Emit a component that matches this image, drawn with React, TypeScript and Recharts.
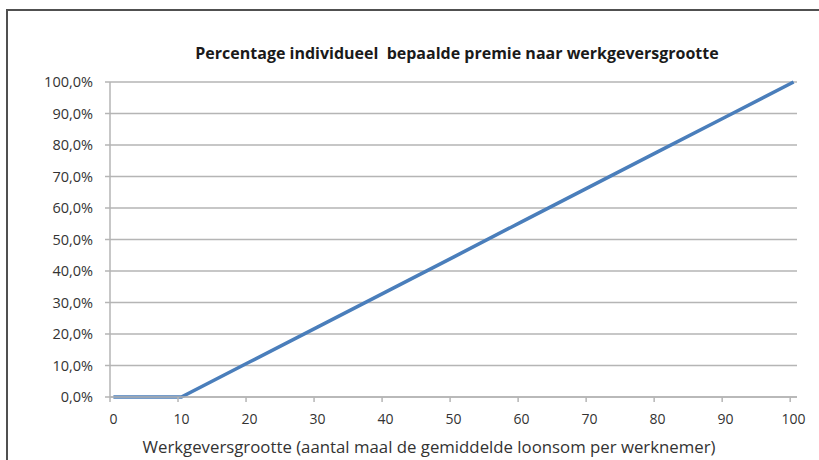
import React from "react";
import { CartesianGrid, Line, LineChart, XAxis, YAxis } from "recharts";

// werkgeversgrootte (x) en percentage individueel bepaalde premie (y)
const sizes = [0, 10, 20, 30, 40, 50, 60, 70, 80, 90, 100];
const shares = [0, 0, 11.1, 22.2, 33.3, 44.4, 55.6, 66.7, 77.8, 88.9, 100];
const xTicks = [0, 10, 20, 30, 40, 50, 60, 70, 80, 90, 100];
const yTicks = [0, 10, 20, 30, 40, 50, 60, 70, 80, 90, 100];

const data = sizes.map((size, i) => ({ size, share: shares[i] }));

const font = "'Open Sans', sans-serif";
const grid = "#b5b5b5";
const text = "#333333";

function fmtPct(v: number) {
  return `${v.toFixed(1).replace(".", ",")}%`;
}

// labels sit on the category centre, tick marks on the category boundary
function XTick({ x, y, payload }: { x?: number; y?: number; payload?: { value: number } }) {
  const px = Number(x);
  const py = Number(y);
  return <g>
    <line x1={px - 3.4} x2={px - 3.4} y1={py - 8} y2={py - 3} stroke={grid} strokeWidth={1.5}/>
    <text x={px} y={py + 19} textAnchor="middle" fill={text} fontSize={14} fontFamily={font}>{payload?.value}</text>
  </g>;
}

export default function App() {
  return <div style={{ position: "fixed", left: 0, top: 0, width: 819, height: 460, background: "#fff", overflow: "hidden" }}>
    <div style={{ position: "absolute", left: 6, top: 9, width: 900, height: 600, borderLeft: "2px solid #505050", borderTop: "2px solid #505050" }}/>
    <div style={{ position: "absolute", left: 107, width: 700, top: 42, textAlign: "center", fontFamily: font, fontWeight: 700, fontSize: 16, color: "#1a1a1a", whiteSpace: "pre" }}>
      {"Percentage individueel  bepaalde premie naar werkgeversgrootte"}
    </div>
    <div style={{ position: "absolute", left: 0, top: 0 }}>
      <LineChart width={819} height={460} data={data} margin={{ top: 82, right: 22, bottom: 0, left: 0 }}>
        <CartesianGrid horizontal vertical={false} stroke={grid} strokeWidth={1.5}/>
        <XAxis dataKey="size" type="number" domain={[-0.5, 100.5]} ticks={xTicks} interval={0}
          axisLine={{ stroke: grid, strokeWidth: 1.5 }} tickLine={false} height={63} tick={<XTick/>}/>
        <YAxis type="number" domain={[0, 100]} ticks={yTicks} interval={0} width={110} tickFormatter={fmtPct}
          axisLine={{ stroke: grid, strokeWidth: 1.5 }} tickLine={{ stroke: grid, strokeWidth: 1.5 }} tickSize={5} tickMargin={12}
          tick={{ fill: text, fontSize: 14.5, fontFamily: font }}/>
        <Line type="linear" dataKey="share" stroke="#4a7ebb" strokeWidth={3.5} dot={false} isAnimationActive={false}/>
      </LineChart>
    </div>
    <div style={{ position: "absolute", left: 79, width: 700, top: 435, textAlign: "center", fontFamily: font, fontSize: 16.8, color: text, whiteSpace: "nowrap" }}>
      Werkgeversgrootte (aantal maal de gemiddelde loonsom per werknemer)
    </div>
  </div>;
}
